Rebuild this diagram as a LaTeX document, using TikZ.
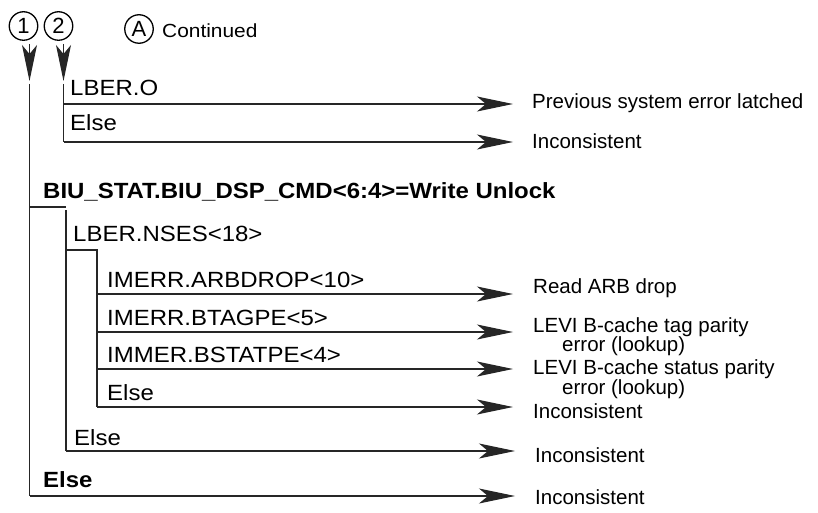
\documentclass[tikz,border=0pt]{standalone}
\usepackage{fontspec}
\setmainfont{Liberation Sans}
\newfontfamily\lblfont[FakeStretch=1.09]{Liberation Sans}
\newfontfamily\hdrfont[FakeStretch=1.1]{Liberation Sans}
\usetikzlibrary{arrows.meta}
\begin{document}
\begin{tikzpicture}[x=1pt,y=-1pt,
  wire/.style={line width=1.2pt, draw=black!85},
  arr/.style={wire, -{Stealth[length=36pt,width=15pt,inset=9pt]}},
  lbl/.style={anchor=base west, inner sep=0pt, font=\lblfont\fontsize{22}{24}\selectfont},
  blbl/.style={lbl, font=\lblfont\bfseries\fontsize{22}{24}\selectfont},
  outlbl/.style={anchor=base west, inner sep=0pt, font=\fontsize{20.5}{22}\selectfont},
  num/.style={circle, draw, line width=1.3pt, minimum size=28.5pt, inner sep=0pt, font=\fontsize{22}{22}\selectfont}
]
\useasboundingbox (0,0) rectangle (818,513);

% header
\node[num] (c1) at (23.5,26) {1};
\node[num] (c2) at (58.5,26) {2};
\node[num] (cA) at (139,29) {A};
\node[anchor=base west, inner sep=0pt, font=\hdrfont\fontsize{19}{21}\selectfont] (cont) at (162,38) {Continued};

\coordinate (a1s) at (29.5,44);
\coordinate (a1e) at (29.5,81);
\coordinate (a2s) at (63.5,44);
\coordinate (a2e) at (63.5,81);
\draw[arr] (a1s) -- (a1e);
\draw[arr] (a2s) -- (a2e);

% corners
\coordinate (v1t) at (29.5,84);
\coordinate (v1b) at (29.5,496);
\coordinate (v2t) at (63.5,84);
\coordinate (v2b) at (63.5,142);
\coordinate (j1) at (63.5,104);
\coordinate (jb) at (29.5,207);
\coordinate (jb2) at (66,207);
\coordinate (v3t) at (66,210);
\coordinate (v3b) at (66,451);
\coordinate (jn) at (66,250);
\coordinate (v4t) at (97,250);
\coordinate (v4b) at (97,407);
\coordinate (k1) at (97,294);
\coordinate (k2) at (97,332);
\coordinate (k3) at (97,369);

% arrow ends
\coordinate (e1) at (513,104);
\coordinate (e2) at (513,142);
\coordinate (e3) at (513,294);
\coordinate (e4) at (513,332);
\coordinate (e5) at (513,369);
\coordinate (e6) at (513,407);
\coordinate (e7) at (515,451);
\coordinate (e8) at (515,496);

% wires
\draw[wire] (v1t) -- (v1b);
\draw[arr] (v1b) -- (e8);
\draw[wire] (v2t) -- (v2b);
\draw[arr] (v2b) -- (e2);
\draw[arr] (j1) -- (e1);
\draw[wire] (jb) -- (jb2);
\draw[wire] (v3t) -- (v3b);
\draw[arr] (v3b) -- (e7);
\draw[wire] (jn) -- (v4t) -- (v4b);
\draw[arr] (v4b) -- (e6);
\draw[arr] (k1) -- (e3);
\draw[arr] (k2) -- (e4);
\draw[arr] (k3) -- (e5);

% left labels
\node[lbl] (lbero) at (70,96) {LBER.O};
\node[lbl] (lelse1) at (70,131) {Else};
\node[blbl] (lbiu) at (43,198) {BIU\_STAT.BIU\_DSP\_CMD<6:4>=Write Unlock};
\node[lbl] (lnses) at (73,241) {LBER.NSES<18>};
\node[lbl] (larb) at (107,287) {IMERR.ARBDROP<10>};
\node[lbl] (lbtag) at (107,325) {IMERR.BTAGPE<5>};
\node[lbl] (lbstat) at (107,362) {IMMER.BSTATPE<4>};
\node[lbl] (lelse2) at (107,400) {Else};
\node[lbl] (lelse3) at (74,445) {Else};
\node[blbl] (lelse4) at (43,487) {Else};

% right labels
\node[outlbl] (r1) at (532,109) {Previous system error latched};
\node[outlbl] (r2) at (532,149) {Inconsistent};
\node[outlbl] (r3) at (533,293) {Read ARB drop};
\node[outlbl] (r4a) at (533,332) {LEVI B-cache tag parity};
\node[outlbl] (r4b) at (562,351) {error (lookup)};
\node[outlbl] (r5a) at (533,374) {LEVI B-cache status parity};
\node[outlbl] (r5b) at (562,394) {error (lookup)};
\node[outlbl] (r6) at (533,418) {Inconsistent};
\node[outlbl] (r7) at (535,462) {Inconsistent};
\node[outlbl] (r8) at (535,504) {Inconsistent};
\end{tikzpicture}
\end{document}
